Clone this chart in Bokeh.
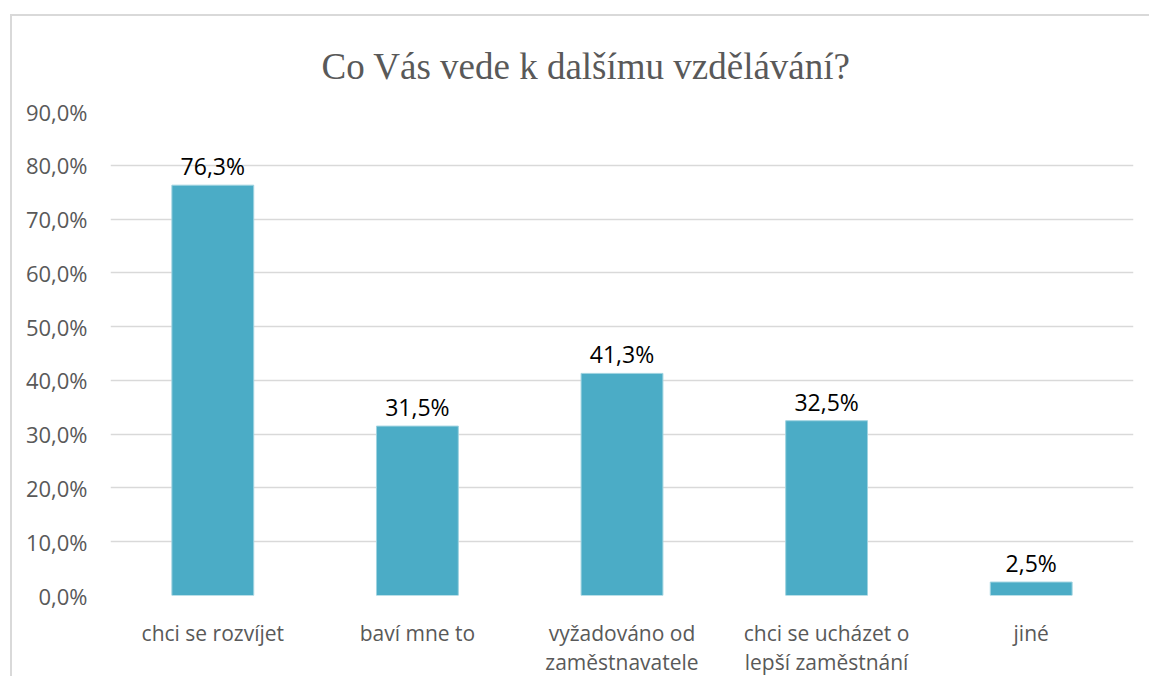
from bokeh.plotting import figure
from bokeh.models import ColumnDataSource, LabelSet, Title, CustomJSTickFormatter, FactorRange, FixedTicker
from bokeh.core.properties import value
from bokeh.embed import file_html
from bokeh.resources import INLINE

categories = ["chci se rozvíjet", "baví mne to", "vyžadováno od\nzaměstnavatele",
              "chci se ucházet o\nlepší zaměstnání", "jiné"]
values = [76.3, 31.5, 41.3, 32.5, 2.5]
labels = ["76,3%", "31,5%", "41,3%", "32,5%", "2,5%"]
y_ticks = [0, 10, 20, 30, 40, 50, 60, 70, 80, 90]
title_text = "Co Vás vede k dalšímu vzdělávání?"

GREY = "#595959"
GRID = "#d9d9d9"
BAR = "#4BACC6"

src = ColumnDataSource(dict(cat=categories, val=values, lab=labels))

p = figure(width=1139, height=662, x_range=FactorRange(*categories, range_padding=0),
           y_range=(0, 90), output_backend="svg", toolbar_location=None,
           min_border_left=98, min_border_right=18, min_border_top=95, min_border_bottom=82,
           margin=(14, 0, 0, 10),
           styles={"border-top": "2px solid #d9d9d9", "border-left": "2px solid #d9d9d9"})

p.title = None
p.add_layout(Title(text=title_text, align="left", offset=211, standoff=49,
                   text_font="Liberation Serif", text_font_size="37px",
                   text_font_style="normal", text_color=GREY), "above")

p.vbar(x="cat", top="val", width=0.4, source=src, fill_color=BAR,
       line_color="#9fd3e0", line_width=1)

p.add_layout(LabelSet(x="cat", y="val", text="lab", source=src, text_align="center",
                      text_baseline="bottom", y_offset=3, text_font=value("Open Sans"),
                      text_font_size="23px", text_color="black"))

p.yaxis.ticker = FixedTicker(ticks=y_ticks)
p.yaxis.formatter = CustomJSTickFormatter(code="return tick.toFixed(1).replace('.', ',') + '%';")
for ax in (p.xaxis, p.yaxis):
    ax.axis_line_color = None
    ax.major_tick_line_color = None
    ax.minor_tick_line_color = None
    ax.major_label_text_font = "Open Sans"
    ax.major_label_text_color = GREY
p.yaxis.major_label_text_font_size = "22px"
p.xaxis.major_label_text_font_size = "21px"
p.xaxis.major_label_text_line_height = 1.05
p.yaxis.major_label_standoff = 17
p.xaxis.major_label_standoff = 17

p.xgrid.grid_line_color = None
p.ygrid.grid_line_color = GRID
p.ygrid.grid_line_width = 1.5
p.outline_line_color = None
p.background_fill_color = "white"
p.border_fill_color = "white"

open("out.html", "w").write(file_html(p, INLINE))
